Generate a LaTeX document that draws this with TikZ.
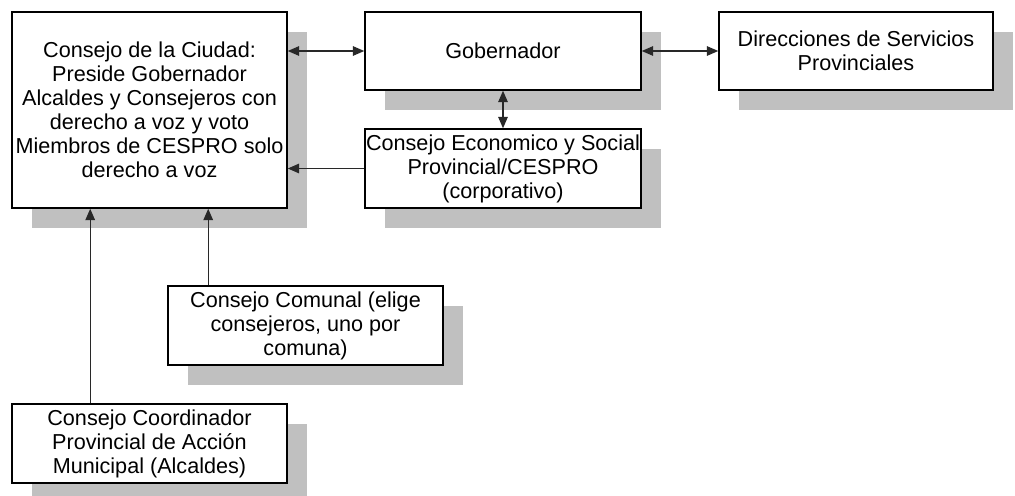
\documentclass[tikz,border=0pt]{standalone}
\usepackage{fontspec}
\setmainfont{Liberation Sans}
\usepackage{tikz}
\usepackage{xcolor}
\usetikzlibrary{calc,arrows.meta,positioning,shadows}
\definecolor{shadowGray}{RGB}{192,192,192}
\definecolor{lineGray}{RGB}{40,40,40}

\begin{document}
\begin{tikzpicture}[
  caja/.style={draw=black,fill=white,line width=0.9pt,inner sep=0pt,align=center,
    font=\fontsize{12.3}{13.7}\selectfont,
    drop shadow={shadow xshift=0.4cm,shadow yshift=-0.4cm,fill=shadowGray,opacity=1}},
  enlace/.style={draw=lineGray,line width=0.6pt,-{Triangle[length=6.5pt,width=5.5pt]}},
  doble/.style={enlace,{Triangle[length=6.5pt,width=5.5pt]}-{Triangle[length=6.5pt,width=5.5pt]}}]
\useasboundingbox (0,0) rectangle (20.3,-9.9);
% cajas
\node[caja,minimum width=5.5cm,minimum height=3.92cm] (ciudad) at (2.99,-2.20)
  {Consejo de la Ciudad:\\Preside Gobernador\\Alcaldes y Consejeros con\\derecho a voz y voto\\Miembros de CESPRO solo\\derecho a voz};
\node[caja,minimum width=5.52cm,minimum height=1.56cm] (gober) at (10.06,-1.02) {Gobernador};
\node[caja,minimum width=5.48cm,minimum height=1.56cm] (direc) at (17.12,-1.02)
  {Direcciones de Servicios\\Provinciales};
\node[caja,minimum width=5.52cm,minimum height=1.58cm] (cespro) at (10.06,-3.37)
  {Consejo Economico y Social\\Provincial/CESPRO\\(corporativo)};
\node[caja,minimum width=5.5cm,minimum height=1.58cm] (comunal) at (6.11,-6.51)
  {Consejo Comunal (elige\\consejeros, uno por\\comuna)};
\node[caja,minimum width=5.5cm,minimum height=1.58cm] (coord) at (2.99,-8.87)
  {Consejo Coordinador\\Provincial de Acción\\Municipal (Alcaldes)};
% flechas
\draw[doble] (gober.west) -- (gober.west -| ciudad.east);
\draw[doble] (gober.east) -- (direc.west);
\draw[doble] (gober.south) -- (cespro.north);
\draw[enlace] (cespro.west) -- (cespro.west -| ciudad.east);
\draw[enlace] ([xshift=0.82cm]comunal.north west) -- ([xshift=0.82cm]comunal.north west |- ciudad.south);
\draw[enlace] ([xshift=1.58cm]coord.north west) -- ([xshift=1.58cm]coord.north west |- ciudad.south);
\end{tikzpicture}
\end{document}
